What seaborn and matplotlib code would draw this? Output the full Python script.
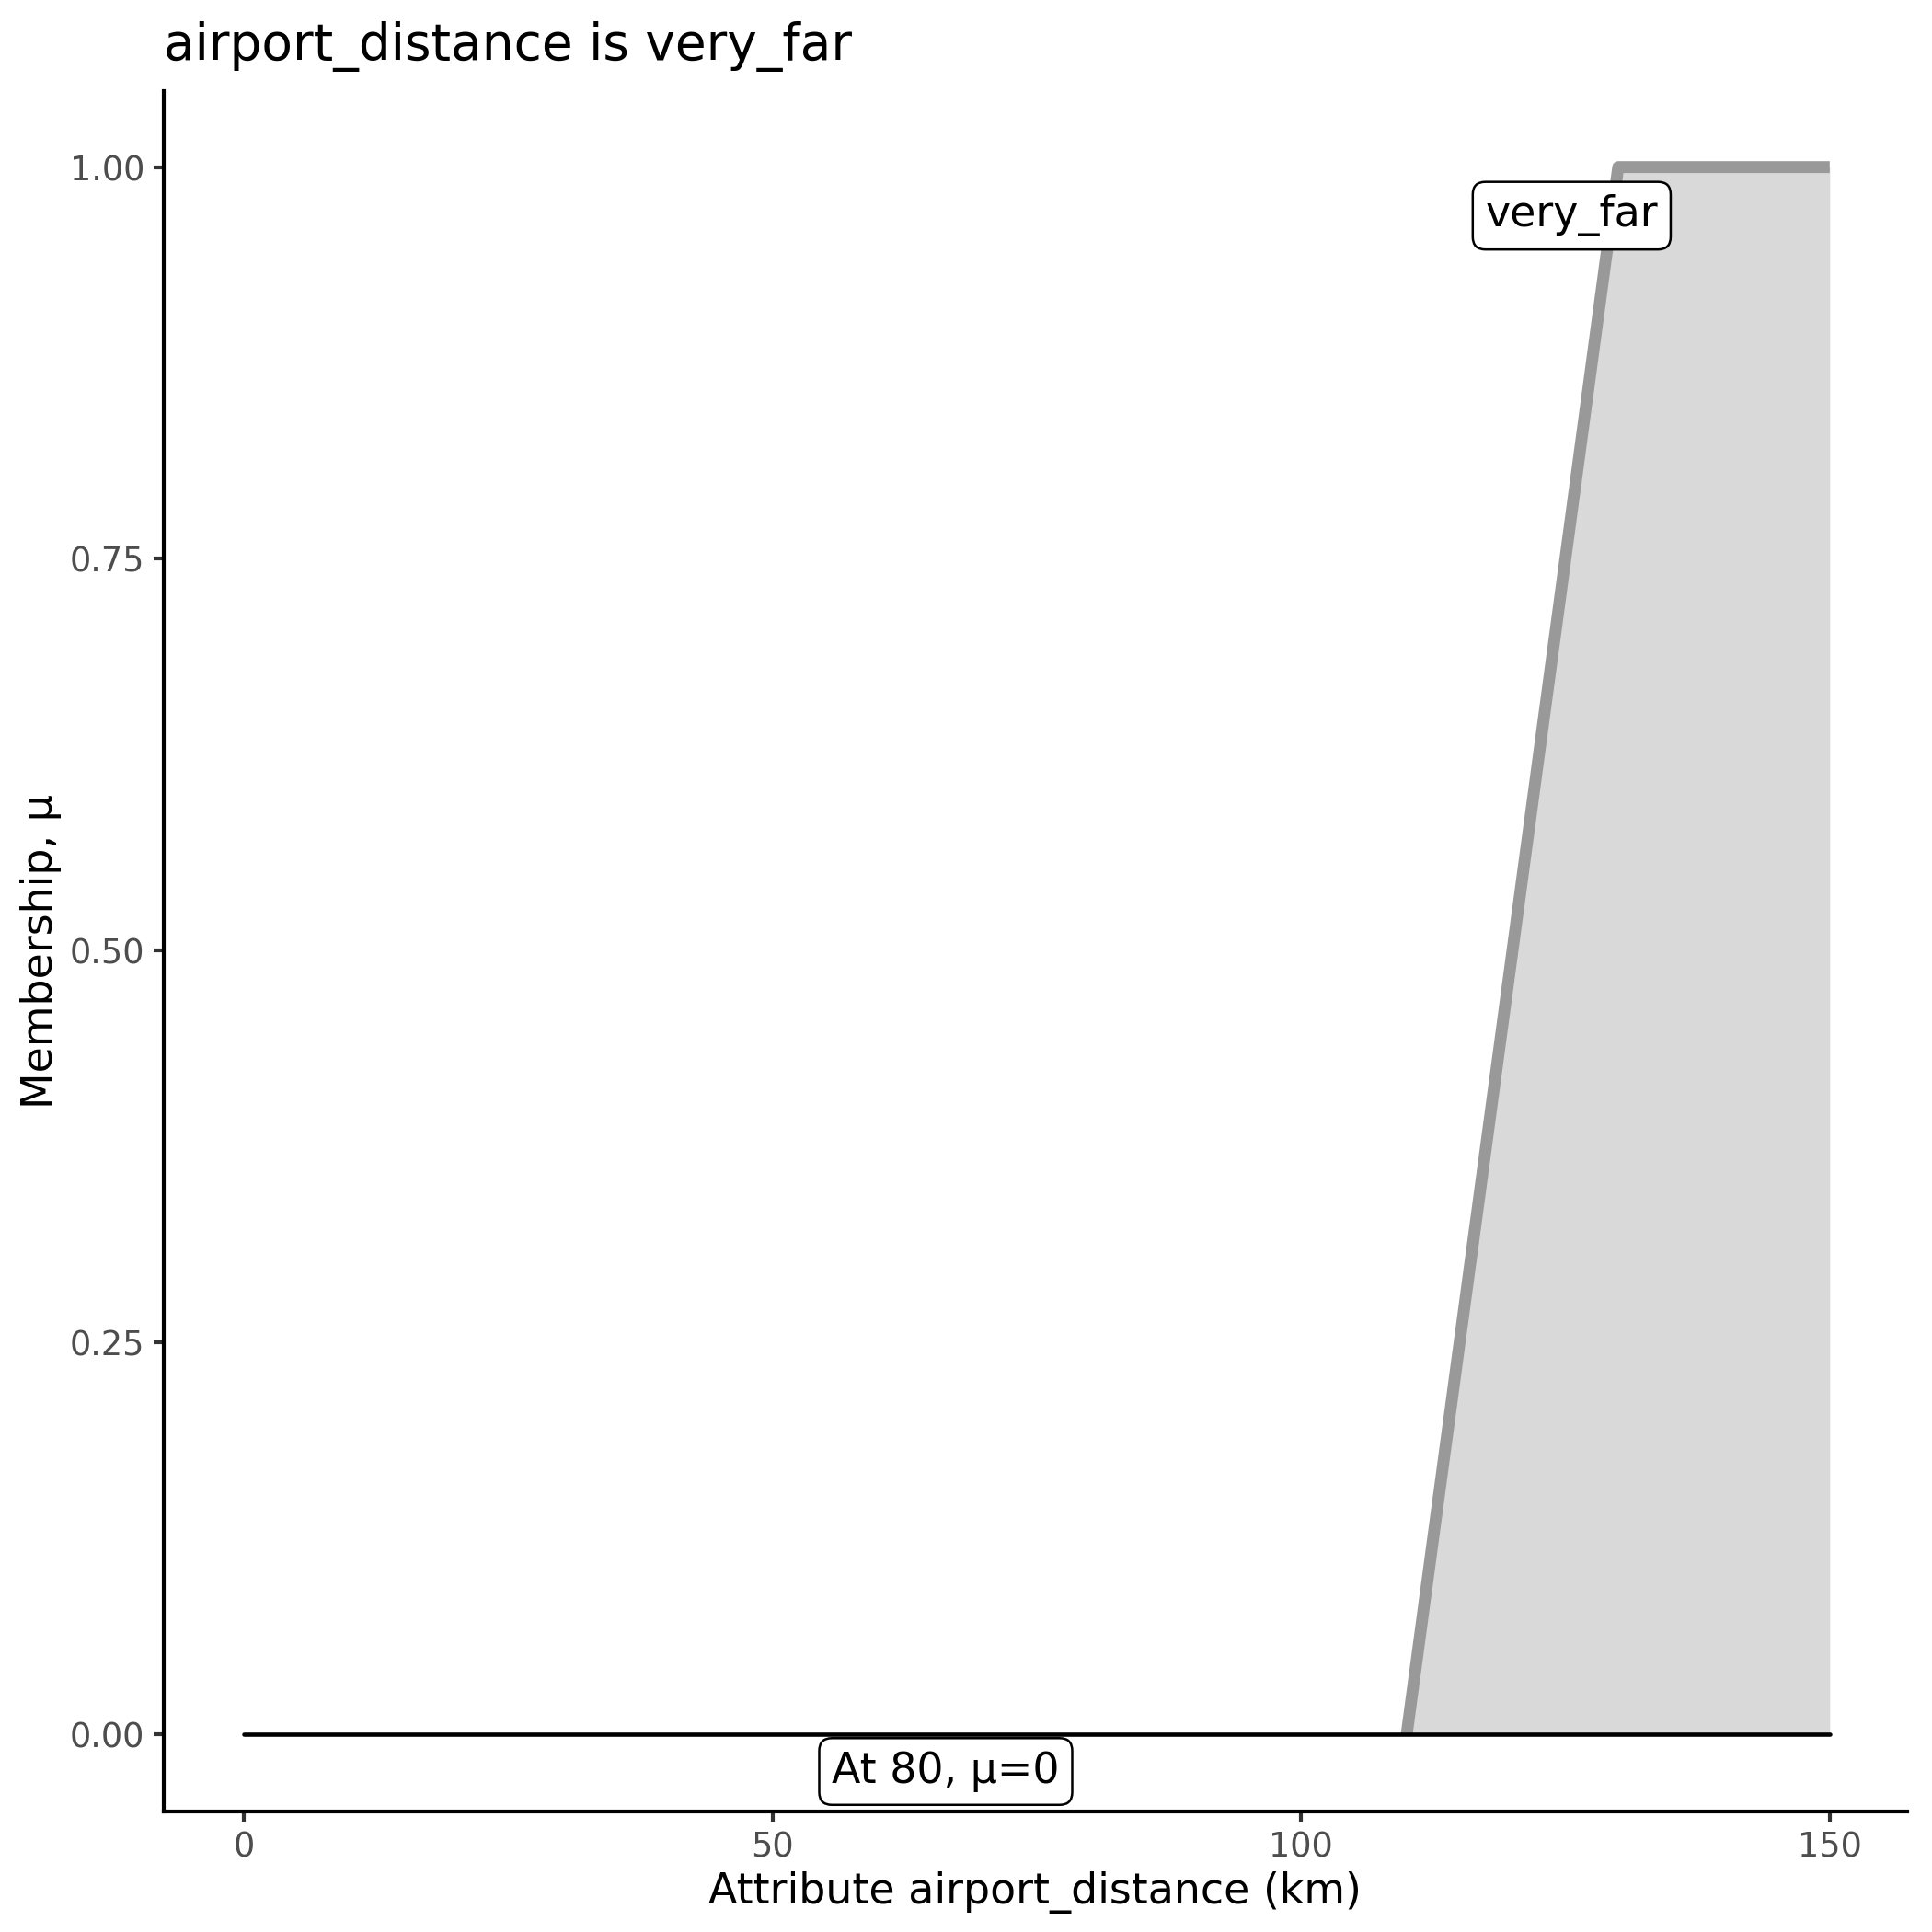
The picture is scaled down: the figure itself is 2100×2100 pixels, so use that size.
import matplotlib
matplotlib.use("Agg")
import matplotlib.pyplot as plt
import pandas as pd
import seaborn as sns

# ------------------------------------------------------------
# Data
# ------------------------------------------------------------

mf_x = [110, 130, 150]
mf_y = [0.0, 1.0, 1.0]

base_x = [0, 150]
base_y = [0.0, 0.0]

x_ticks = [0, 50, 100, 150]
y_ticks = [0.00, 0.25, 0.50, 0.75, 1.00]
y_tick_labels = ["0.00", "0.25", "0.50", "0.75", "1.00"]

set_label = "very_far"
set_label_xy = (125.6, 0.969)
point_label = "At 80, \u03bc=0"
point_label_xy = (66.4, -0.024)

mf_df = pd.DataFrame({"x": mf_x, "mu": mf_y})
base_df = pd.DataFrame({"x": base_x, "mu": base_y})

# ------------------------------------------------------------
# Plot
# ------------------------------------------------------------

sns.set_theme(style="ticks")
plt.rcParams["font.family"] = ["DejaVu Sans"]

fig = plt.figure(figsize=(7, 7), dpi=300)
ax = fig.add_axes([0.0848, 0.0624, 0.9022, 0.8906])

ax.fill_between(mf_df["x"], 0, mf_df["mu"], color="#d9d9d9", linewidth=0, zorder=1)

sns.lineplot(
    data=mf_df, x="x", y="mu", ax=ax,
    color="#999999", linewidth=3.1, zorder=2,
    solid_joinstyle="round", solid_capstyle="butt",
)

sns.lineplot(
    data=base_df, x="x", y="mu", ax=ax,
    color="black", linewidth=1.1, zorder=3,
)

box = dict(boxstyle="round,pad=0.3,rounding_size=0.3", fc="white", ec="black", lw=0.6)
ax.text(*set_label_xy, set_label, ha="center", va="center", fontsize=11,
        color="black", bbox=box, zorder=4)
ax.text(*point_label_xy, point_label, ha="center", va="center", fontsize=11,
        color="black", bbox=box, zorder=4)

ax.set_xlim(-7.55, 157.3)
ax.set_ylim(-0.0495, 1.0487)
ax.set_xticks(x_ticks)
ax.set_yticks(y_ticks)
ax.set_yticklabels(y_tick_labels)

sns.despine(ax=ax)
for side in ["left", "bottom"]:
    ax.spines[side].set_linewidth(1.0)
    ax.spines[side].set_color("black")

ax.tick_params(axis="both", length=2.75, width=1.0, color="#333333",
               labelsize=8.8, labelcolor="#4d4d4d", pad=2.2)

ax.set_xlabel("Attribute airport_distance (km)", fontsize=11, color="black", labelpad=1.8)
ax.set_ylabel("Membership, \u03bc", fontsize=11, color="black", labelpad=2.2)
ax.set_title("airport_distance is very_far", loc="left", fontsize=13.2, color="black", pad=8)

fig.savefig("out.png", dpi=300, facecolor="white")
plt.close(fig)
